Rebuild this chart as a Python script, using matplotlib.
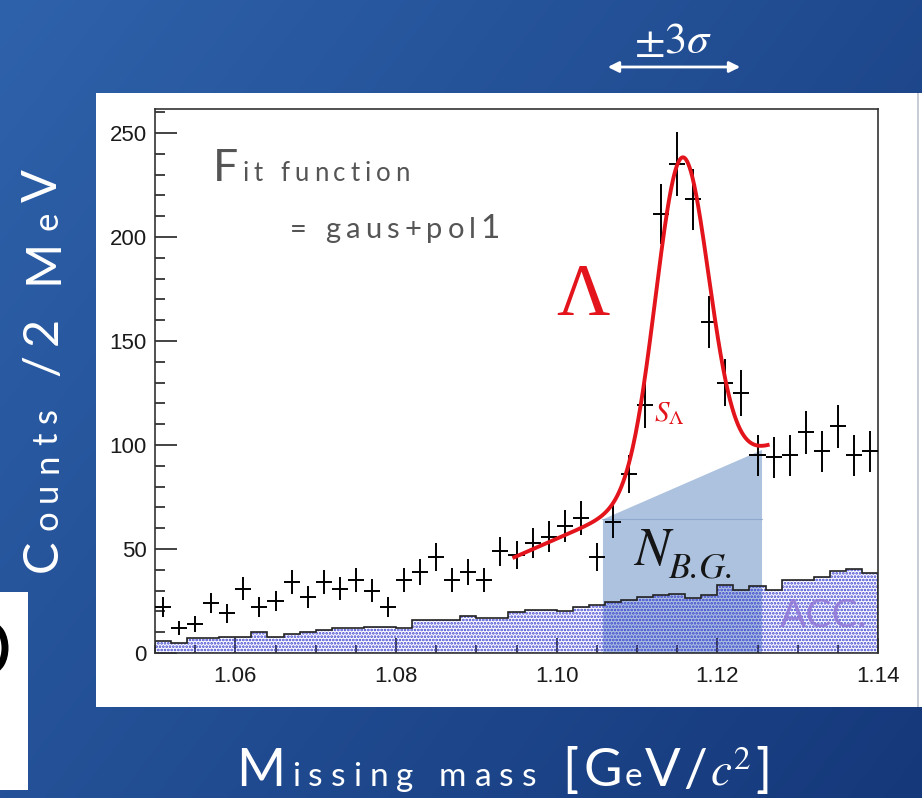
import numpy as np
import matplotlib.pyplot as plt
from matplotlib.patches import Rectangle, FancyArrowPatch, Ellipse
from matplotlib.ticker import MultipleLocator

plt.rcParams['font.family'] = ['Liberation Sans', 'DejaVu Sans']
plt.rcParams['mathtext.fontset'] = 'stix'
plt.rcParams['hatch.linewidth'] = 1.3

W, H = 922, 798

# missing mass spectrum, 2 MeV bins between 1.05 and 1.14 GeV/c^2
bin_lo = 1.05
bin_w = 0.002
counts = [22, 12, 14, 24, 19, 31, 22, 25, 34, 27, 34, 31, 35, 30, 22,
          35, 39, 46, 35, 39, 35, 49, 47, 53, 56, 61, 65, 46, 63, 86,
          119, 211, 235, 218, 159, 130, 125, 95, 94, 95, 106, 97, 109, 95, 97]
# accidental coincidence background
acc = [6, 5, 7, 7, 7.5, 7.5, 10, 7.5, 9, 10, 11, 12, 12, 12.5, 12.5,
       12, 16, 16, 16, 18, 17, 17, 19.5, 20.5, 20.5, 20, 22, 23, 24.5, 25.5,
       27, 28, 28.5, 26.5, 28, 32.5, 30.5, 32, 30.5, 35, 35, 36.5, 39.5, 40.5, 38.5]

# gaus + pol1 fit result
gaus_par = [157.0, 1.1156, 0.0033]   # constant, mean, sigma
pol1_par = [-1797.5, 1684.0]         # p0, p1
fit_range = [1.0945, 1.1265]

x_ticks = [1.06, 1.08, 1.10, 1.12, 1.14]
x_ticklabels = ['1.06', '1.08', '1.10', '1.12', '1.14']
y_ticks = [0, 50, 100, 150, 200, 250]


def pol1(x):
    return pol1_par[0] + pol1_par[1] * x


def fit_func(x):
    c, m, s = gaus_par
    return c * np.exp(-0.5 * ((x - m) / s) ** 2) + pol1(x)


fig = plt.figure(figsize=(W / 100, H / 100), dpi=100)
renderer = fig.canvas.get_renderer()

# slide background
bg_ax = fig.add_axes([0, 0, 1, 1], zorder=-10)
gx, gy = np.meshgrid(np.linspace(0, 1, 300), np.linspace(0, 1, 300))
t = 0.6 * gx + 0.4 * gy
c0 = np.array([0x2e, 0x62, 0xab]) / 255
c1 = np.array([0x15, 0x38, 0x7a]) / 255
bg_ax.imshow(c0 + (c1 - c0) * t[..., None], extent=[0, 1, 0, 1], aspect='auto', origin='upper')
bg_ax.axis('off')


def px_rect(x0, y0, x1, y1, **kw):
    r = Rectangle((x0 / W, 1 - y1 / H), (x1 - x0) / W, (y1 - y0) / H,
                  transform=fig.transFigure, **kw)
    fig.add_artist(r)
    return r


px_rect(96, 93, 922, 707, facecolor='white', edgecolor='none', zorder=-5)
px_rect(917, 93, 918.5, 707, facecolor='#c8ccd4', edgecolor='none', zorder=-4)
px_rect(0, 592, 28, 790, facecolor='white', edgecolor='none', zorder=-5)
fig.add_artist(Ellipse((-8 / W, 1 - 648 / H), 26 / W, 44 / H, transform=fig.transFigure,
                       facecolor='none', edgecolor='black', lw=5, zorder=-4))

# histogram panel
ax = fig.add_axes([155 / W, 1 - 653 / H, (878 - 155) / W, (653 - 109) / H])
ax.set_facecolor('white')
ax.set_xlim(1.05, 1.14)
ax.set_ylim(0, 261.5)

edges = bin_lo + bin_w * np.arange(len(counts) + 1)
centers = edges[:-1] + bin_w / 2

# N_BG region under the linear term, mean +- 3 sigma
lo = gaus_par[1] - 3 * gaus_par[2]
hi = gaus_par[1] + 3 * gaus_par[2]
xs = np.linspace(lo, hi, 50)
ax.fill_between(xs, 0, pol1(xs), color='#a3bcdc', alpha=0.9, lw=0, zorder=1)
ax.plot([lo, hi], [pol1(lo), pol1(lo)], color='#7d99c2', lw=0.8, alpha=0.6, zorder=1.5)

ax.stairs(acc, edges, fill=True, facecolor='none', edgecolor='#3a3fd0',
          hatch='.....', linewidth=0, zorder=2)
ax.stairs(acc, edges, color='#222222', lw=1.2, zorder=2.5)

ax.errorbar(centers, counts, xerr=bin_w / 2, yerr=np.sqrt(counts), fmt='none',
            ecolor='black', elinewidth=1.4, capsize=0, zorder=4)

xf = np.linspace(fit_range[0], fit_range[1], 400)
ax.plot(xf, fit_func(xf), color='#e3141b', lw=2.8, solid_capstyle='butt', zorder=5)

ax.set_xticks(x_ticks)
ax.set_xticklabels(x_ticklabels)
ax.set_yticks(y_ticks)
ax.xaxis.set_minor_locator(MultipleLocator(0.005))
ax.yaxis.set_minor_locator(MultipleLocator(10))
ax.tick_params(which='both', direction='in', top=False, right=False,
               labelsize=16, width=1.2, color='#222222', labelcolor='#1a1a1a')
ax.tick_params(axis='y', which='major', length=16, pad=6)
ax.tick_params(axis='y', which='minor', length=7)
ax.tick_params(axis='x', which='major', length=11, pad=9)
ax.tick_params(axis='x', which='minor', length=6)
for s in ax.spines.values():
    s.set_color('#333333')
    s.set_linewidth(1.2)


def spaced_text(x, y, pieces, color, vertical=False, **kw):
    # characters one by one, so the letter spacing can be opened up
    for s, size, track in pieces:
        chunks = [s] if s.startswith('$') else list(s)
        for ch in chunks:
            if ch == ' ':
                step = size * 0.3 * 100 / 72
            else:
                txt = fig.text(x / W, 1 - y / H, ch, fontsize=size, color=color,
                               rotation=90 if vertical else 0, rotation_mode='anchor',
                               ha='left', va='baseline', **kw)
                bb = txt.get_window_extent(renderer)
                step = bb.height if vertical else bb.width
            step += track
            if vertical:
                y -= step
            else:
                x += step
    return x, y


thin = dict(family=['Lato', 'DejaVu Sans'], fontweight='normal')

spaced_text(57, 572, [('C', 35, 9), ('ounts', 25, 9), (' /2 M', 35, 9), ('e', 25, 9), ('V', 35, 0)],
            'white', vertical=True, **thin)
spaced_text(236, 786, [('M', 38, 7), ('issing mass ', 24, 8), ('[', 38, 5), ('G', 38, 3),
                       ('e', 24, 3), ('V', 38, 2), ('/', 38, 3),
                       (r'$c^2$', 34, 4), (']', 38, 0)],
            'white', **thin)

spaced_text(213, 181, [('F', 32, 4), ('it function', 18.5, 5)], '#555555', **thin)
spaced_text(290, 238, [('= gaus+pol', 21, 5), ('1', 24, 0)], '#555555', **thin)

fig.text(556 / W, 1 - 315 / H, 'Λ', family='Liberation Serif', fontsize=53,
         color='#e3141b', ha='left', va='baseline')
fig.text(654 / W, 1 - 421 / H, r'$S_{\Lambda}$', fontsize=21,
         color='#e3141b', ha='left', va='baseline')
fig.text(634 / W, 1 - 565 / H, 'N', family='STIXGeneral', style='italic', fontsize=38,
         color='#151515', ha='left', va='baseline')
fig.text(668 / W, 1 - 578 / H, 'B.G.', family='STIXGeneral', style='italic', fontsize=26,
         color='#151515', ha='left', va='baseline')
fig.text(780 / W, 1 - 627 / H, 'ACC.', fontsize=28, color='#9077d6', alpha=0.85,
         ha='left', va='baseline', **thin)

fig.text(673 / W, 1 - 53 / H, r'$\pm3\sigma$', fontsize=32, color='white',
         ha='center', va='baseline')
fig.add_artist(FancyArrowPatch((605 / W, 1 - 67 / H), (743 / W, 1 - 67 / H),
                               transform=fig.transFigure, arrowstyle='<|-|>',
                               mutation_scale=16, color='white', lw=2))

fig.savefig('out.png', dpi=100)
